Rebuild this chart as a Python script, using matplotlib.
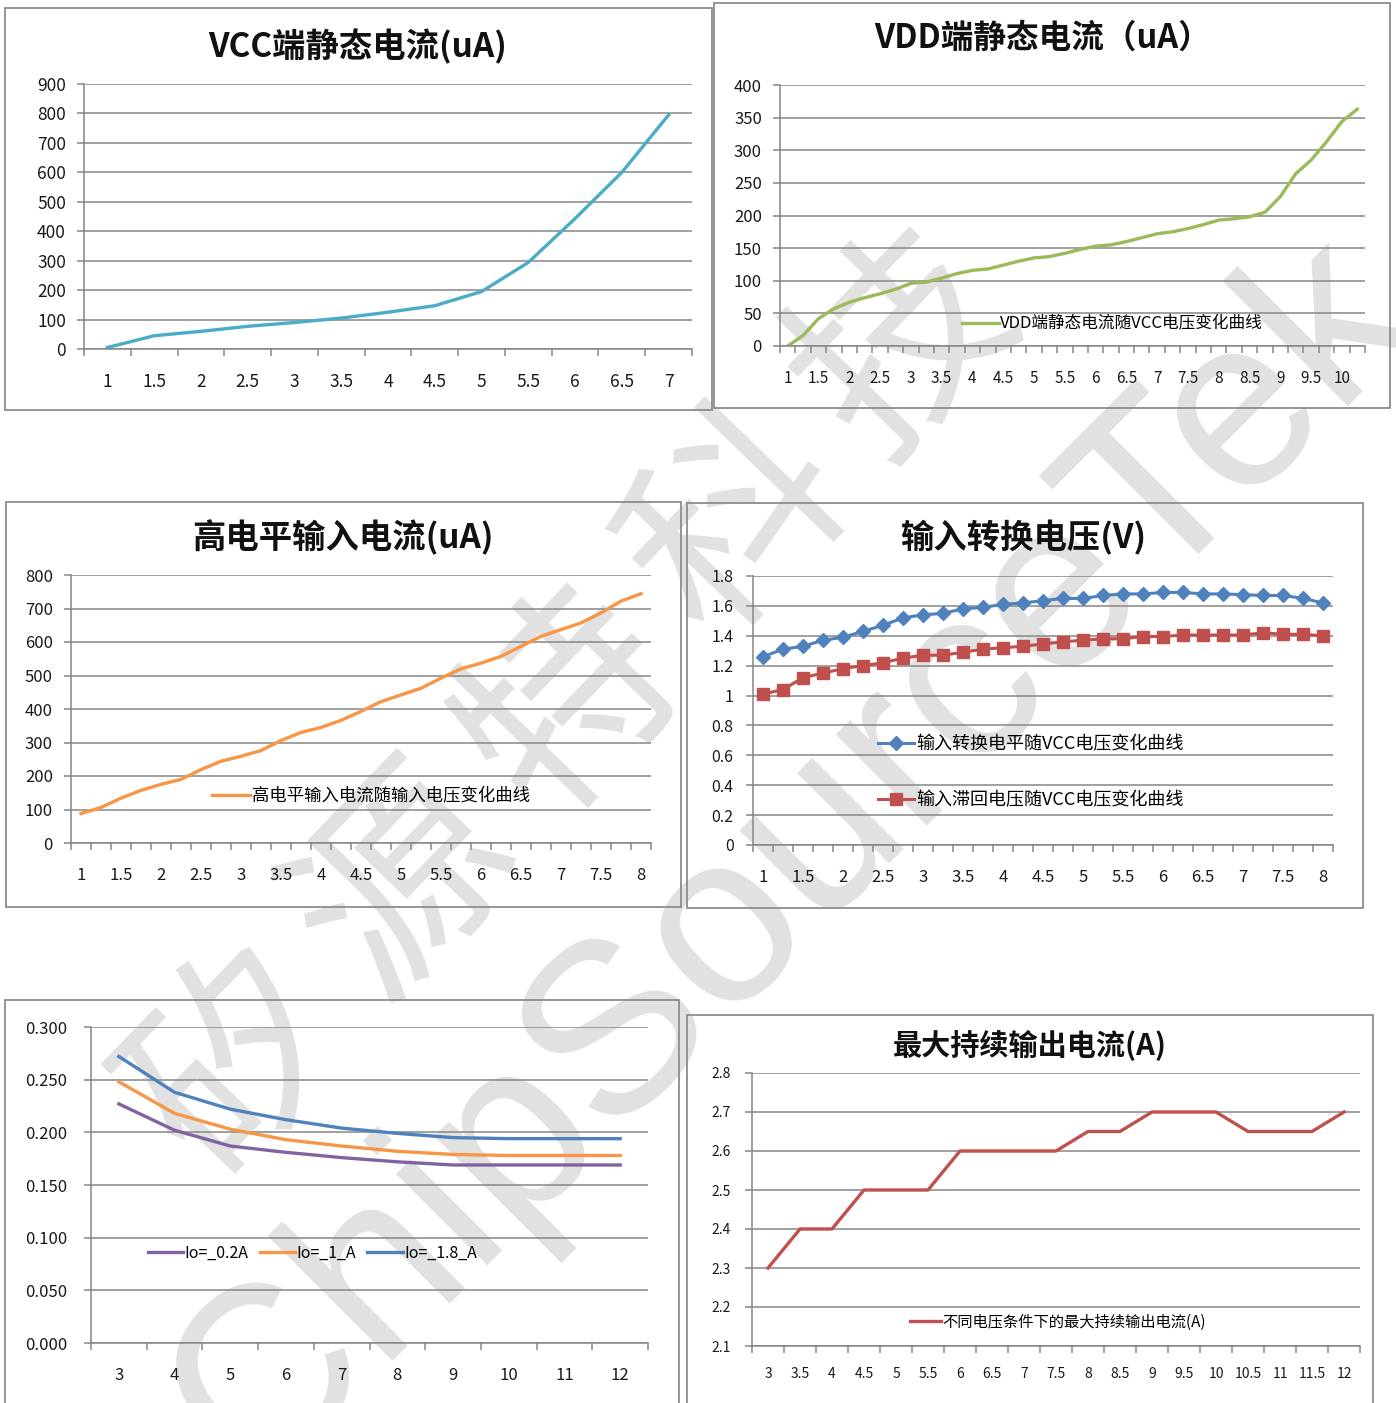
import numpy as np
import matplotlib
matplotlib.use("Agg")
from matplotlib import pyplot as plt
from matplotlib.patches import Rectangle
from matplotlib.ticker import FuncFormatter

plt.rcParams['font.family'] = ['Noto Sans CJK SC', 'DejaVu Sans']

W, H = 1396, 1403

# ---- data ----
vcc_labels = ["1", "1.5", "2", "2.5", "3", "3.5", "4", "4.5", "5", "5.5", "6", "6.5", "7"]
vcc_ua = [5, 45, 60, 77, 90, 105, 125, 147, 195, 294, 443, 600, 795]

# 0.25 V steps, labels every 0.5 V
vdd_labels = ["1", "1.5", "2", "2.5", "3", "3.5", "4", "4.5", "5", "5.5",
              "6", "6.5", "7", "7.5", "8", "8.5", "9", "9.5", "10"]
vdd_ua = [0, 16, 42, 57, 67, 74, 80, 87, 96, 98, 104, 111, 116, 118, 124, 130,
          135, 137, 142, 148, 153, 155, 160, 166, 172, 175, 180, 186, 193, 195,
          198, 205, 229, 264, 285, 313, 344, 363]

in_labels = ["1", "1.5", "2", "2.5", "3", "3.5", "4", "4.5", "5", "5.5",
             "6", "6.5", "7", "7.5", "8"]
high_ua = [88, 106, 134, 157, 175, 190, 219, 244, 259, 276, 306, 330, 345, 366,
           393, 422, 442, 462, 492, 520, 537, 557, 587, 617, 637, 657, 687, 722, 744]

th_level = [1.26, 1.31, 1.33, 1.37, 1.39, 1.43, 1.47, 1.52, 1.54, 1.55, 1.58,
            1.59, 1.61, 1.62, 1.635, 1.65, 1.65, 1.67, 1.68, 1.68, 1.69, 1.69,
            1.68, 1.68, 1.675, 1.67, 1.67, 1.65, 1.62]
th_hyst = [1.01, 1.04, 1.12, 1.15, 1.18, 1.20, 1.22, 1.25, 1.27, 1.27, 1.29,
           1.31, 1.32, 1.33, 1.345, 1.36, 1.37, 1.38, 1.38, 1.395, 1.395, 1.405,
           1.405, 1.405, 1.405, 1.42, 1.41, 1.41, 1.40]

eff_labels = ["3", "4", "5", "6", "7", "8", "9", "10", "11", "12"]
io_02 = [0.227, 0.202, 0.187, 0.181, 0.176, 0.172, 0.169, 0.169, 0.169, 0.169]
io_1 = [0.248, 0.218, 0.203, 0.193, 0.187, 0.182, 0.179, 0.178, 0.178, 0.178]
io_18 = [0.272, 0.238, 0.222, 0.212, 0.204, 0.199, 0.195, 0.194, 0.194, 0.194]

imax_labels = ["3", "3.5", "4", "4.5", "5", "5.5", "6", "6.5", "7", "7.5", "8",
               "8.5", "9", "9.5", "10", "10.5", "11", "11.5", "12"]
imax_a = [2.3, 2.4, 2.4, 2.5, 2.5, 2.5, 2.6, 2.6, 2.6, 2.6, 2.65, 2.65, 2.7, 2.7,
          2.7, 2.65, 2.65, 2.65, 2.7]

GRID = '#868686'
TXT = '#1a1a1a'
WM = '#e1e1e1'

fig = plt.figure(figsize=(W / 100, H / 100), dpi=100)


def box(l, t, r, b):
    fig.add_artist(Rectangle((l / W, 1 - b / H), (r - l) / W, (b - t) / H,
                             transform=fig.transFigure, fill=False,
                             ec='#8c8c8c', lw=1.3))


def panel(l, t, r, b, n, labels, step, yticks, fmt, fsy, fsx, padx=17, pady=9):
    ax = fig.add_axes([l / W, 1 - b / H, (r - l) / W, (b - t) / H])
    ax.set_facecolor('none')
    ax.set_xlim(-0.5, n - 0.5)
    ax.set_ylim(yticks[0], yticks[-1])
    ax.set_yticks(yticks)
    ax.yaxis.set_major_formatter(FuncFormatter(fmt))
    ax.grid(axis='y', color=GRID, lw=1.1)
    ax.set_axisbelow(True)
    for s in ['top', 'right']:
        ax.spines[s].set_visible(False)
    for s in ['left', 'bottom']:
        ax.spines[s].set_color(GRID)
        ax.spines[s].set_linewidth(1.1)
    ax.set_xticks(np.arange(n + 1) - 0.5)
    ax.set_xticklabels([])
    ax.set_xticks(np.arange(0, n, step)[:len(labels)], minor=True)
    ax.set_xticklabels(labels, minor=True)
    ax.tick_params(axis='x', which='major', direction='out', length=5, color=GRID, width=1.1)
    ax.tick_params(axis='x', which='minor', length=0, pad=padx, labelsize=fsx, labelcolor=TXT)
    ax.tick_params(axis='y', direction='out', length=5, color=GRID, width=1.1,
                   pad=pady, labelsize=fsy, labelcolor=TXT)
    return ax


def title(x, y, s, fs):
    fig.text(x / W, 1 - y / H, s, ha='center', va='center', fontsize=fs,
             fontweight='bold', color='#111111')


def legend_at(ax, x, y, fs, **kw):
    ax.legend(loc='center left', bbox_to_anchor=(x / W, 1 - y / H),
              bbox_transform=fig.transFigure, frameon=False, fontsize=fs,
              borderpad=0, borderaxespad=0, handletextpad=0.1, **kw)


def g(v, pos):
    return f"{round(v, 2):g}"


# ---- watermark (behind the charts) ----
wm_cn = "矽源特科技"
cx0, cy0, cx1, cy1 = 240, 1065, 905, 345
for i, ch in enumerate(wm_cn):
    f = i / (len(wm_cn) - 1)
    fig.text((cx0 + f * (cx1 - cx0)) / W, 1 - (cy0 + f * (cy1 - cy0)) / H, ch,
             fontsize=152, rotation=46, ha='center', va='center',
             color=WM, zorder=-1)
fig.text(836 / W, 1 - 904 / H, "ChipSourceTek", family='Liberation Sans',
         fontsize=175, rotation=45, ha='center', va='baseline',
         rotation_mode='anchor', color=WM, zorder=-1)

# ---- VCC 端静态电流 ----
box(5, 8, 712, 410)
ax1 = panel(84, 84, 692, 349, len(vcc_ua), vcc_labels, 1,
            list(range(0, 901, 100)), g, 12.5, 12.5, padx=17, pady=8)
ax1.plot(np.arange(len(vcc_ua)), vcc_ua, color='#4BACC6', lw=2.4, solid_joinstyle='round')
title(358, 47, "VCC端静态电流(uA)", 24)

# ---- VDD 端静态电流 ----
box(714, 3, 1390, 408)
ax2 = panel(780, 85, 1365, 346, len(vdd_ua), vdd_labels, 2,
            list(range(0, 401, 50)), g, 12, 11, padx=17, pady=8)
ax2.plot(np.arange(len(vdd_ua)), vdd_ua, color='#9BBB59', lw=2.4, solid_joinstyle='round',
         label="VDD端静态电流随VCC电压变化曲线")
legend_at(ax2, 962, 324, 12, handlelength=2.2)
title(1043, 38, "VDD端静态电流（uA）", 23.5)

# ---- 高电平输入电流 ----
box(6, 502, 681, 907)
ax3 = panel(71, 575, 651, 843, len(high_ua), in_labels, 2,
            list(range(0, 801, 100)), g, 12, 12, padx=17, pady=8)
ax3.plot(np.arange(len(high_ua)), high_ua, color='#F79646', lw=2.4, solid_joinstyle='round',
         label="高电平输入电流随输入电压变化曲线")
legend_at(ax3, 212, 796, 12.5, handlelength=2.2)
title(343, 538, "高电平输入电流(uA)", 24)

# ---- 输入转换电压 ----
box(687, 503, 1363, 908)
ax4 = panel(753, 576, 1333, 845, len(th_level), in_labels, 2,
            [round(0.2 * i, 1) for i in range(10)], g, 11.5, 12, padx=17, pady=9)
xs = np.arange(len(th_level))
ax4.plot(xs, th_level, color='#4F81BD', lw=2.2, marker='D', ms=7,
         label="输入转换电平随VCC电压变化曲线")
ax4.plot(xs, th_hyst, color='#C0504D', lw=2.2, marker='s', ms=8.5,
         label="输入滞回电压随VCC电压变化曲线")
legend_at(ax4, 878, 772, 13, handlelength=2.0, labelspacing=2.1)
title(1023, 538, "输入转换电压(V)", 24)

# ---- 负载电流曲线 ----
box(5, 1000, 679, 1420)
ax5 = panel(91, 1027, 648, 1343, len(io_02), eff_labels, 1,
            [round(0.05 * i, 2) for i in range(7)], lambda v, p: f"{v:.3f}",
            12, 12, padx=17, pady=12)
xs = np.arange(len(io_02))
ax5.plot(xs, io_02, color='#8064A2', lw=2.4, label="Io=_0.2A")
ax5.plot(xs, io_1, color='#F79646', lw=2.4, label="Io=_1_A")
ax5.plot(xs, io_18, color='#4F81BD', lw=2.4, label="Io=_1.8_A")
legend_at(ax5, 148, 1253, 11.5, handlelength=2.2, ncol=3, columnspacing=0.7)

# ---- 最大持续输出电流 ----
box(687, 1015, 1373, 1420)
ax6 = panel(752, 1073, 1360, 1346, len(imax_a), imax_labels, 1,
            [round(2.1 + 0.1 * i, 1) for i in range(8)], g, 10, 10, padx=15, pady=10)
ax6.plot(np.arange(len(imax_a)), imax_a, color='#C0504D', lw=2.4,
         label="不同电压条件下的最大持续输出电流(A)")
legend_at(ax6, 910, 1322, 11, handlelength=2.0)
title(1030, 1046, "最大持续输出电流(A)", 21)

fig.savefig("out.png", dpi=100)
